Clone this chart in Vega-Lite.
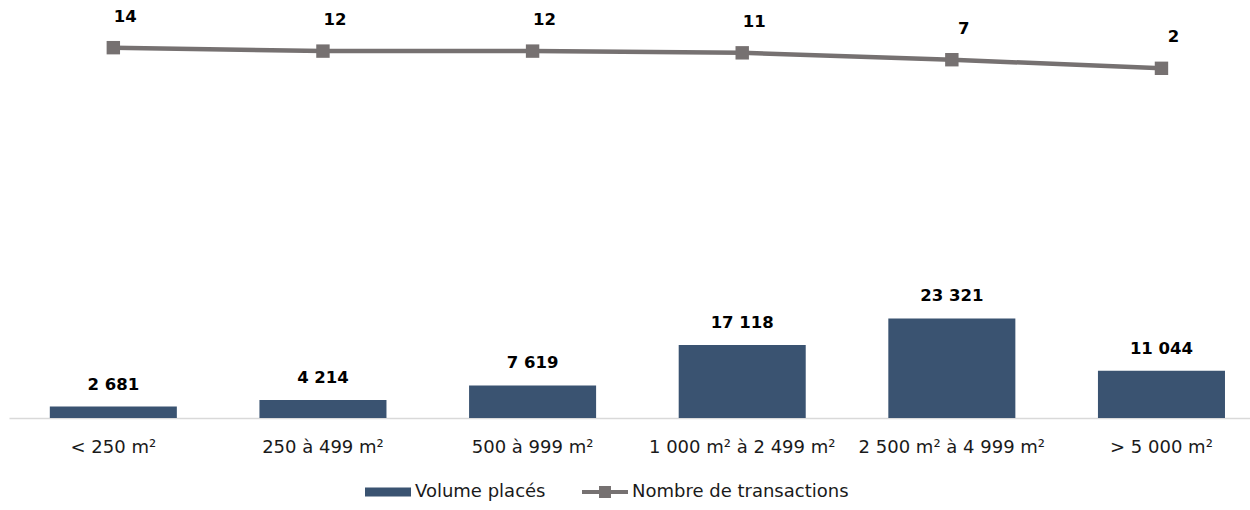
{
  "$schema": "https://vega.github.io/schema/vega-lite/v6.json",
  "width": 1241,
  "height": 408,
  "autosize": {"type": "none"},
  "padding": {"left": 9, "top": 10, "right": 0, "bottom": 92},
  "config": {
    "font": "DejaVu Sans",
    "view": {"stroke": null},
    "locale": {"number": {"decimal": ",", "thousands": " ", "grouping": [3], "currency": ["", " €"]}}
  },
  "data": {
    "values": [
      {"cat": "< 250 m²", "volume": 2681, "transactions": 14},
      {"cat": "250 à 499 m²", "volume": 4214, "transactions": 12},
      {"cat": "500 à 999 m²", "volume": 7619, "transactions": 12},
      {"cat": "1 000 m² à 2 499 m²", "volume": 17118, "transactions": 11},
      {"cat": "2 500 m² à 4 999 m²", "volume": 23321, "transactions": 7},
      {"cat": "> 5 000 m²", "volume": 11044, "transactions": 2}
    ]
  },
  "encoding": {
    "x": {
      "field": "cat", "type": "nominal", "sort": null,
      "scale": {"paddingInner": 0.394, "paddingOuter": 0.157, "align": 0.62},
      "axis": {
        "title": null, "labelAngle": 0, "ticks": false, "domainColor": "#d9d9d9", "domainWidth": 1.5,
        "labelFontSize": 18, "labelColor": "#1a1a1a", "labelPadding": 20, "labelLimit": 0,
        "labelOverlap": false, "labelBound": false, "labelFlush": false, "grid": false
      }
    }
  },
  "layer": [
    {
      "encoding": {
        "y": {"field": "volume", "type": "quantitative", "scale": {"domain": [0, 95550]}, "axis": null}
      },
      "layer": [
        {
          "mark": {"type": "bar"},
          "encoding": {
            "color": {
              "datum": "Volume placés",
              "scale": {"domain": ["Volume placés", "Nombre de transactions"], "range": ["#3a5371", "#767171"]},
              "legend": {
                "title": null, "orient": "none", "legendX": 356, "legendY": 459, "direction": "horizontal",
                "symbolSize": 2116, "labelFontSize": 18, "labelColor": "#1a1a1a", "labelOffset": 4, "labelLimit": 0,
                "columnPadding": 36,
                "encode": {
                  "symbols": {
                    "update": {
                      "shape": {"signal": "datum.value == 'Volume placés' ? 'M-1,-0.2H1V0.2H-1Z' : 'M-1,-0.09H1V0.09H-1Z M-0.26,-0.26H0.26V0.26H-0.26Z'"},
                      "fill": {"scale": "color", "field": "value"},
                      "strokeWidth": {"value": 0},
                      "opacity": {"value": 1},
                      "fillOpacity": {"value": 1}
                    }
                  }
                }
              }
            }
          }
        },
        {
          "mark": {"type": "text", "baseline": "alphabetic", "dy": -17, "fontSize": 16.5, "fontWeight": "bold", "color": "#000000"},
          "encoding": {"text": {"field": "volume", "type": "quantitative", "format": ",d"}}
        }
      ]
    },
    {
      "encoding": {
        "y": {"field": "transactions", "type": "quantitative", "scale": {"domain": [-201.3, 35.9]}, "axis": null}
      },
      "layer": [
        {
          "mark": {"type": "line", "strokeWidth": 4.5},
          "encoding": {"color": {"datum": "Nombre de transactions"}}
        },
        {
          "mark": {"type": "point", "shape": "square", "filled": true, "size": 180, "color": "#767171", "opacity": 1}
        },
        {
          "mark": {"type": "text", "baseline": "middle", "align": "center", "dx": 12, "dy": -31, "fontSize": 16.5, "fontWeight": "bold", "color": "#000000"},
          "encoding": {"text": {"field": "transactions", "type": "quantitative"}}
        }
      ]
    }
  ],
  "resolve": {"scale": {"y": "independent"}}
}
